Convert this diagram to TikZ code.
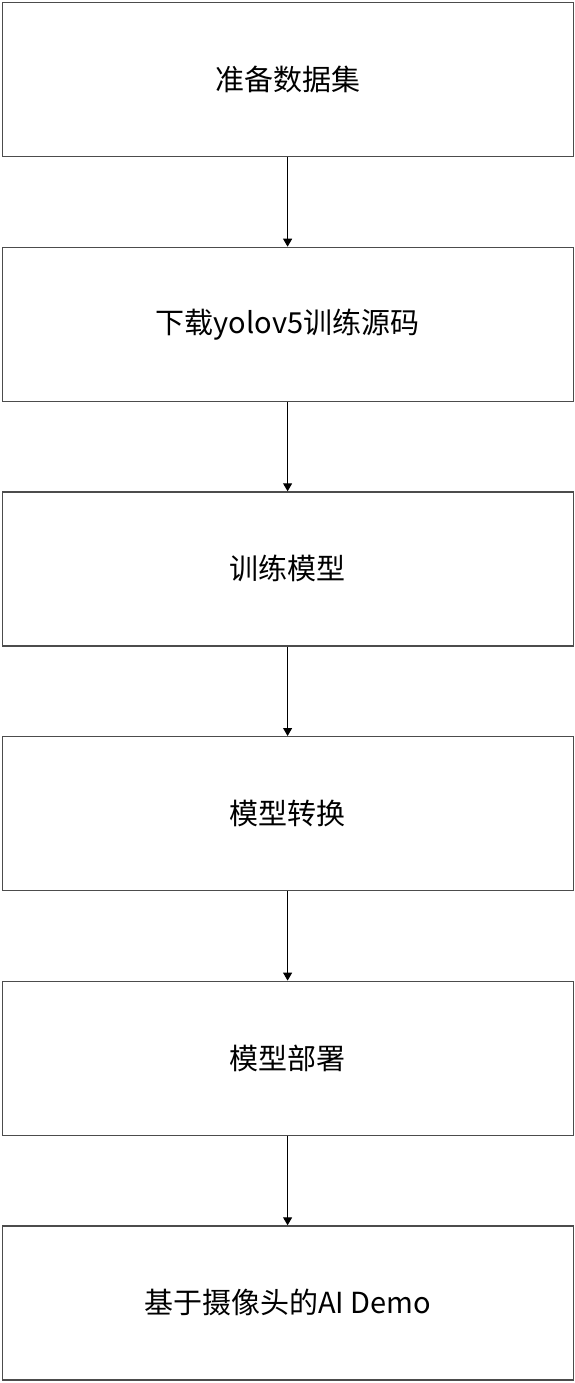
\documentclass[tikz,border=0pt]{standalone}
\usepackage{fontspec}
\setmainfont{Noto Sans CJK SC}
\usetikzlibrary{arrows.meta}
\begin{document}
\begin{tikzpicture}[x=1pt,y=-1pt,
  stepbox/.style={draw=black!70, line width=1.2pt, minimum width=571pt, minimum height=154pt, inner sep=0pt, font=\fontsize{29}{32}\selectfont, anchor=north west},
  flow/.style={draw=black, line width=1pt, -{Triangle[length=8pt,width=9pt]}}]
\useasboundingbox (0,0) rectangle (575,1383);
\node[stepbox] (b1) at (1.5,2) {准备数据集};
\node[stepbox] (b2) at (1.5,246.7) {下载yolov5训练源码};
\node[stepbox] (b3) at (1.5,491.3) {训练模型};
\node[stepbox] (b4) at (1.5,736) {模型转换};
\node[stepbox] (b5) at (1.5,980.6) {模型部署};
\node[stepbox] (b6) at (1.5,1225.3) {基于摄像头的AI Demo};
\draw[flow] (b1.south) -- (b2.north);
\draw[flow] (b2.south) -- (b3.north);
\draw[flow] (b3.south) -- (b4.north);
\draw[flow] (b4.south) -- (b5.north);
\draw[flow] (b5.south) -- (b6.north);
\end{tikzpicture}
\end{document}
